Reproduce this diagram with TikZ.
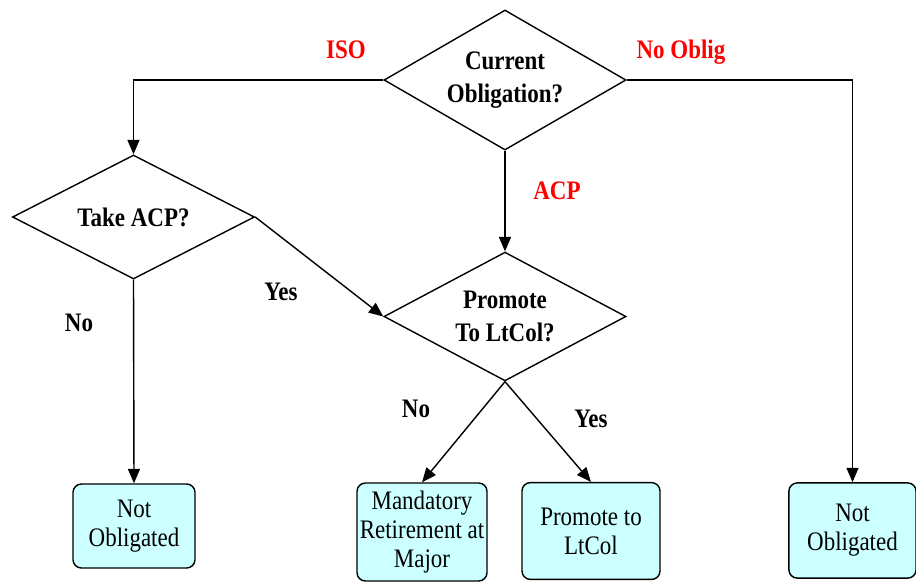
\documentclass[tikz,border=0pt]{standalone}
\usepackage{fontspec}
\setmainfont{Liberation Serif}[FakeStretch=0.86]
\usepackage{xcolor}
\usepackage{tikz}
\usetikzlibrary{shapes.geometric, arrows.meta, positioning}
\definecolor{boxcyan}{RGB}{204, 255, 255}
\definecolor{pathred}{RGB}{255, 0, 0}

\begin{document}
\begin{tikzpicture}[
    x=0.025cm, y=-0.025cm,
    line width=1pt,
    decision/.style={diamond, draw, aspect=1.8, inner sep=0pt, minimum width=6.05cm, align=center,
        font=\fontsize{19}{23.5}\selectfont\bfseries},
    outcome/.style={rectangle, draw, fill=boxcyan, rounded corners=6pt, inner sep=0pt, align=center,
        font=\fontsize{19}{20.5}\selectfont},
    arrow/.style={-{Triangle[length=0.36cm, width=0.3cm]}},
    answer/.style={font=\fontsize{19}{20}\selectfont\bfseries},
    branch/.style={answer, text=pathred}
]
\useasboundingbox (0,0) rectangle (916,581);

% Decisions
\node[decision, minimum height=3.5cm] (cur) at (505,80) {Current\\Obligation?};
\node[decision, minimum height=3.1cm] (take) at (133.5,217) {Take ACP?};
\node[decision, minimum height=3.22cm] (prom) at (505,316.5) {Promote\\To LtCol?};

% Outcomes
\node[outcome, minimum width=3.05cm, minimum height=2.1cm] (notobl) at (134,526) {Not\\Obligated};
\node[outcome, minimum width=3.25cm, minimum height=2.45cm] (mand) at (422,532) {Mandatory\\Retirement at\\Major};
\node[outcome, minimum width=3.45cm, minimum height=2.42cm] (ltcol) at (591,531) {Promote to\\LtCol};
\node[outcome, minimum width=3.18cm, minimum height=2.38cm] (notobr) at (852.5,530.5) {Not\\Obligated};

% Connectors
\draw[arrow] (cur.west) -| (take.north);
\draw[arrow] (cur.east) -| (notobr.north);
\draw[arrow] (cur.south) -- (prom.north);
\draw[arrow] (take.east) -- (prom.west);
\draw[arrow] (take.south) -- (notobl.north);
\draw[arrow] (prom.south) -- (mand.north);
\draw[arrow] (prom.south) -- (ltcol.north);

% Branch labels
\node[branch] (iso) at (346,50) {ISO};
\node[branch] (noobl) at (681,52) {No Oblig};
\node[branch] (acp) at (557,191) {ACP};
\node[answer] (takeyes) at (281,292) {Yes};
\node[answer] (takeno) at (79,323) {No};
\node[answer] (promno) at (416,409) {No};
\node[answer] (promyes) at (591,419) {Yes};

\end{tikzpicture}
\end{document}
